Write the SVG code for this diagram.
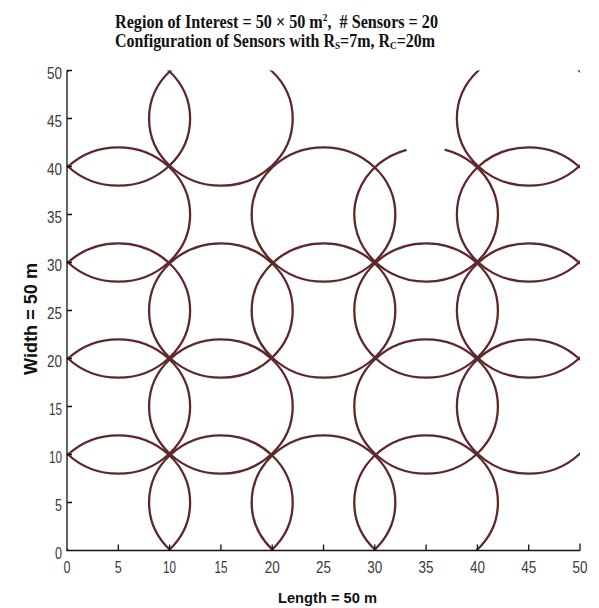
<svg xmlns="http://www.w3.org/2000/svg" width="599" height="608" viewBox="0 0 599 608">
<style>
.s{fill:none;stroke:#5e2828;stroke-width:2.3;vector-effect:non-scaling-stroke}
.ax{stroke:#111;stroke-width:1.3;fill:none}
.tl{font-family:"Liberation Sans",Arial,sans-serif;font-size:16px;fill:#3a3a3a}
.ttl{font-family:"Liberation Serif","Times New Roman",serif;font-weight:bold;font-size:19px;fill:#111}
.al{font-family:"Liberation Sans",Arial,sans-serif;font-weight:bold;fill:#111}
</style>
<defs>
<clipPath id="plotclip"><rect x="67" y="70.5" width="513" height="480"/></clipPath>
</defs>
<rect width="599" height="608" fill="#fff"/>
<g id="title">
<text class="ttl" x="115" y="28" textLength="323" lengthAdjust="spacingAndGlyphs">Region of Interest = 50 × 50 m<tspan font-size="11" dy="-7">2</tspan><tspan dy="7">,&#160; # Sensors = 20</tspan></text>
<text class="ttl" x="115" y="47" textLength="320" lengthAdjust="spacingAndGlyphs">Configuration of Sensors with R<tspan font-size="11" dy="2">S</tspan><tspan dy="-2">=7m, R</tspan><tspan font-size="11" dy="2">C</tspan><tspan dy="-2">=20m</tspan></text>
</g>
<g id="sensors" clip-path="url(#plotclip)">
<g transform="translate(67,550.5) scale(10.26,-9.6)">
<circle id="s1" class="s" cx="5" cy="45" r="7"/>
<circle id="s2" class="s" cx="15" cy="45" r="7"/>
<circle id="s3" class="s" cx="45" cy="45" r="7"/>
<circle id="s4" class="s" cx="5" cy="35" r="7"/>
<circle id="s5" class="s" cx="25" cy="35" r="7"/>
<path id="s6" class="s" d="M36.8 41.765 A7 7 0 1 0 33.1 41.737"/>
<circle id="s7" class="s" cx="45" cy="35" r="7"/>
<circle id="s8" class="s" cx="5" cy="25" r="7"/>
<circle id="s9" class="s" cx="15" cy="25" r="7"/>
<circle id="s10" class="s" cx="25" cy="25" r="7"/>
<circle id="s11" class="s" cx="35" cy="25" r="7"/>
<circle id="s12" class="s" cx="45" cy="25" r="7"/>
<circle id="s13" class="s" cx="5" cy="15" r="7"/>
<circle id="s14" class="s" cx="15" cy="15" r="7"/>
<circle id="s15" class="s" cx="35" cy="15" r="7"/>
<circle id="s16" class="s" cx="45" cy="15" r="7"/>
<circle id="s17" class="s" cx="5" cy="5" r="7"/>
<circle id="s18" class="s" cx="15" cy="5" r="7"/>
<circle id="s19" class="s" cx="25" cy="5" r="7"/>
<circle id="s20" class="s" cx="35" cy="5" r="7"/>
</g>
</g>
<g id="axes">
<path class="ax" d="M67 70.5 V550.5 H580"/>
<path class="ax" d="M67 70.5 h5 M67 118.5 h5 M67 166.5 h5 M67 214.5 h5 M67 262.5 h5 M67 310.5 h5 M67 358.5 h5 M67 406.5 h5 M67 454.5 h5 M67 502.5 h5"/>
<path class="ax" d="M118.3 550.5 v-6 M169.6 550.5 v-6 M220.9 550.5 v-6 M272.2 550.5 v-6 M323.5 550.5 v-6 M374.8 550.5 v-6 M426.1 550.5 v-6 M477.4 550.5 v-6 M528.7 550.5 v-6 M580 550.5 v-7"/>
</g>
<g id="yticks" class="tl" text-anchor="end">
<text x="62" y="78.5" textLength="15" lengthAdjust="spacingAndGlyphs">50</text>
<text x="62" y="126.5" textLength="15" lengthAdjust="spacingAndGlyphs">45</text>
<text x="62" y="174.5" textLength="15" lengthAdjust="spacingAndGlyphs">40</text>
<text x="62" y="222.5" textLength="15" lengthAdjust="spacingAndGlyphs">35</text>
<text x="62" y="270.5" textLength="15" lengthAdjust="spacingAndGlyphs">30</text>
<text x="62" y="318.5" textLength="15" lengthAdjust="spacingAndGlyphs">25</text>
<text x="62" y="366.5" textLength="15" lengthAdjust="spacingAndGlyphs">20</text>
<text x="62" y="414.5" textLength="13" lengthAdjust="spacingAndGlyphs">15</text>
<text x="62" y="462.5" textLength="13" lengthAdjust="spacingAndGlyphs">10</text>
<text x="62" y="510.5" textLength="7" lengthAdjust="spacingAndGlyphs">5</text>
<text x="62" y="558.5" textLength="7" lengthAdjust="spacingAndGlyphs">0</text>
</g>
<g id="xticks" class="tl" text-anchor="middle">
<text x="67" y="573" textLength="7" lengthAdjust="spacingAndGlyphs">0</text>
<text x="118.3" y="573" textLength="7" lengthAdjust="spacingAndGlyphs">5</text>
<text x="169.6" y="573" textLength="13" lengthAdjust="spacingAndGlyphs">10</text>
<text x="220.9" y="573" textLength="13" lengthAdjust="spacingAndGlyphs">15</text>
<text x="272.2" y="573" textLength="15" lengthAdjust="spacingAndGlyphs">20</text>
<text x="323.5" y="573" textLength="15" lengthAdjust="spacingAndGlyphs">25</text>
<text x="374.8" y="573" textLength="15" lengthAdjust="spacingAndGlyphs">30</text>
<text x="426.1" y="573" textLength="15" lengthAdjust="spacingAndGlyphs">35</text>
<text x="477.4" y="573" textLength="15" lengthAdjust="spacingAndGlyphs">40</text>
<text x="528.7" y="573" textLength="15" lengthAdjust="spacingAndGlyphs">45</text>
<text x="580" y="573" textLength="15" lengthAdjust="spacingAndGlyphs">50</text>
</g>
<g id="labels">
<text class="al" x="327.5" y="603" font-size="14" text-anchor="middle" textLength="99" lengthAdjust="spacingAndGlyphs">Length = 50 m</text>
<text class="al" transform="translate(37,319) rotate(-90)" x="0" y="0" font-size="18" text-anchor="middle" textLength="112" lengthAdjust="spacingAndGlyphs">Width = 50 m</text>
</g>
</svg>
